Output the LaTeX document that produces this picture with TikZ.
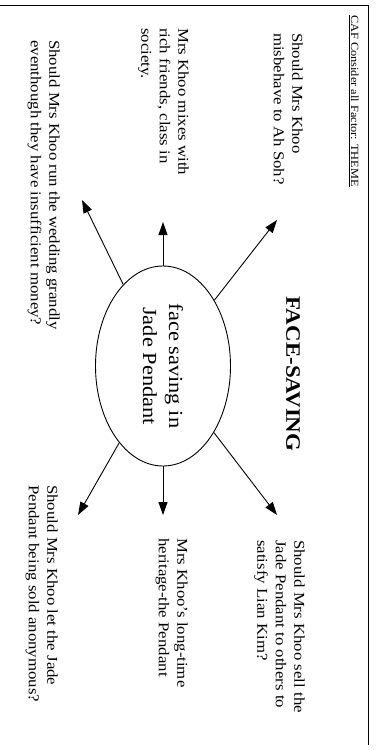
\documentclass[tikz,border=0pt]{standalone}
\usepackage{fontspec}
\setmainfont{Liberation Serif}[FakeStretch=1.12]
\usetikzlibrary{shapes.geometric,arrows.meta}

\begin{document}
\begin{tikzpicture}[x=1pt,y=-1pt,
		callout/.style={rotate=-90,anchor=north west,inner sep=0pt,align=left,font=\fontsize{15}{18.5}\selectfont},
		pointer/.style={-{Triangle[length=13pt,width=9pt]},line width=0.9pt}]
		\useasboundingbox (0,0) rectangle (378,750);
		\draw[line width=0.9pt] (0,5) -- (368,5) -- (368,745); %frame
		\node[callout,font=\fontsize{11}{13}\selectfont] (title) at (359,15) {\underline{CAF Consider all Factor: THEME}};
		\node[rotate=-90,font=\fontsize{20.5}{24}\selectfont\bfseries] (theme) at (293,374) {FACE-SAVING};
		\node[draw,ellipse,rotate=-90,minimum width=200pt,minimum height=135pt,inner sep=0pt,line width=0.9pt,
			align=center,font=\fontsize{20}{26}\selectfont] (centre) at (163,366) {face saving in\\Jade Pendant}; %centre
		% left half
		\node[callout] (misbehave) at (303,33) {Should Mrs Khoo\\misbehave to Ah Soh?};
		\node[callout] (mixes) at (189,28) {Mrs Khoo mixes with\\rich friends, class in\\society.};
		\node[callout] (wedding) at (60,40) {Should Mrs Khoo run the wedding grandly\\eventhough they have insufficient money?};
		% right half
		\node[callout] (sell) at (305,540) {Should Mrs Khoo sell the\\Jade Pendant to others to\\satisfy Lian Kim?};
		\node[callout] (heritage) at (188,538) {Mrs Khoo's long-time\\heritage-the Pendant};
		\node[callout] (anonymous) at (58,485) {Should Mrs Khoo let the Jade\\Pendant being sold anonymous?};
		% arrow tips
		\coordinate (t1) at (277,220);
		\coordinate (t2) at (163,222);
		\coordinate (t3) at (82,200);
		\coordinate (t4) at (277,515);
		\coordinate (t5) at (163,515);
		\coordinate (t6) at (78,515);
		\foreach \i in {1,...,6}{
			\draw[pointer] (centre) -- (t\i);
		}
	\end{tikzpicture}
\end{document}
